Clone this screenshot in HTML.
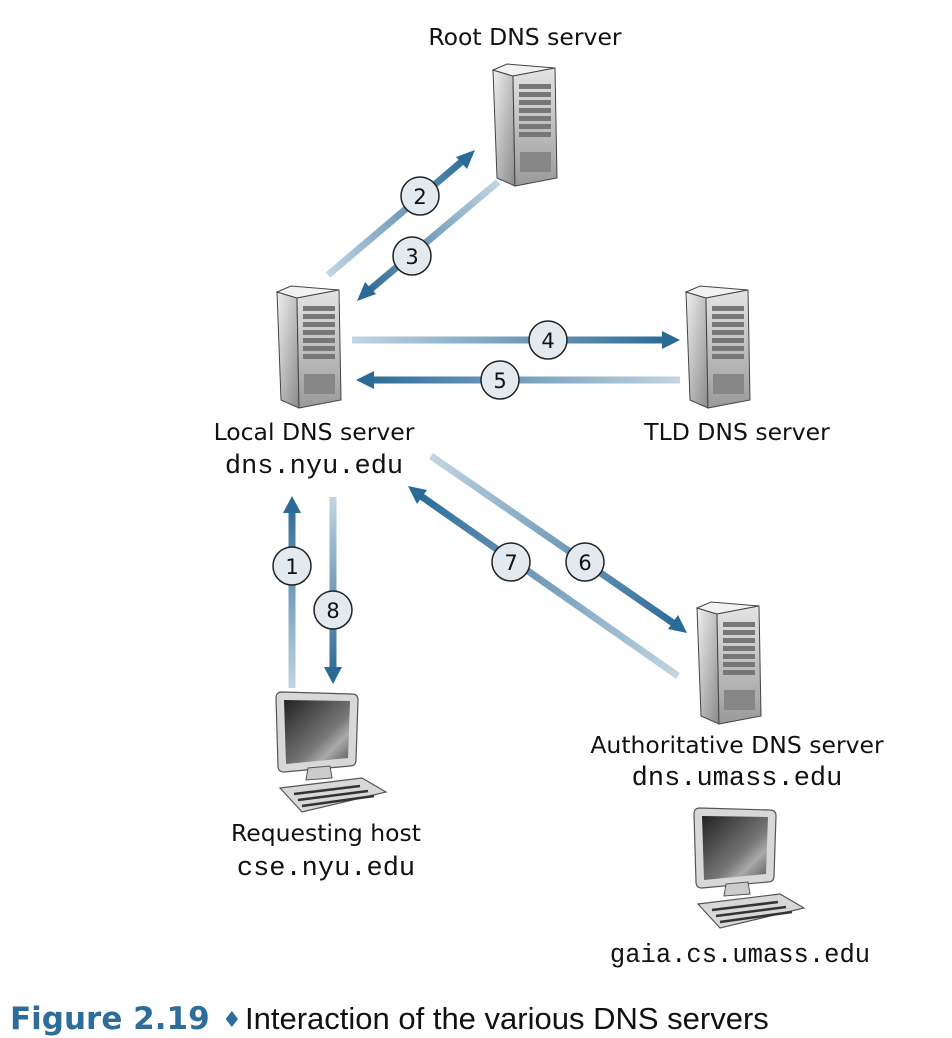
<!DOCTYPE html>
<html><head><meta charset="utf-8"><style>
html,body{margin:0;padding:0;background:#fff;}
svg{display:block}
.s{font-family:"DejaVu Sans","Liberation Sans",sans-serif;font-size:23.5px;fill:#111;text-anchor:middle}
.m{font-family:"Liberation Mono",monospace;font-size:27px;fill:#111;text-anchor:middle}
.n{font-family:"DejaVu Sans","Liberation Sans",sans-serif;font-size:21px;fill:#111;text-anchor:middle}
</style></head><body>
<svg width="952" height="1038" viewBox="0 0 952 1038" xmlns="http://www.w3.org/2000/svg">
<defs>
<linearGradient id="front" x1="0" y1="0" x2="0" y2="1"><stop offset="0" stop-color="#e4e4e4"/><stop offset="1" stop-color="#9a9a9a"/></linearGradient>
<linearGradient id="side" x1="0" y1="0" x2="1" y2="1"><stop offset="0" stop-color="#f0f0f0"/><stop offset="1" stop-color="#8a8a8a"/></linearGradient>
<linearGradient id="scr" x1="0" y1="0" x2="1" y2="1"><stop offset="0" stop-color="#222"/><stop offset="0.6" stop-color="#777"/><stop offset="0.75" stop-color="#aaa"/><stop offset="1" stop-color="#555"/></linearGradient>
<g id="srv">
<polygon points="0,6 20,12 22,122 4,114" fill="url(#side)" stroke="#444" stroke-width="1"/>
<polygon points="0,6 14,0 62,4 20,12" fill="#f2f2f2" stroke="#444" stroke-width="1"/>
<polygon points="20,12 62,4 64,114 22,122" fill="url(#front)" stroke="#444" stroke-width="1"/>
<g fill="#777">
<rect x="26" y="20" width="32" height="5"/><rect x="26" y="28" width="32" height="5"/><rect x="26" y="36" width="32" height="5"/><rect x="26" y="44" width="32" height="5"/><rect x="26" y="52" width="32" height="5"/><rect x="26" y="60" width="32" height="5"/><rect x="26" y="68" width="32" height="5"/>
</g>
<rect x="27" y="88" width="31" height="20" fill="#868686"/>
</g>
<g id="pc">
<path d="M4,6 Q4,0 10,0 L80,2 Q86,2 86,8 L84,68 Q84,74 78,74 L12,80 Q6,80 6,74 Z" fill="#d8d8d8" stroke="#555" stroke-width="1.2"/>
<path d="M12,8 L78,9 L76,66 L14,72 Z" fill="url(#scr)"/>
<path d="M36,76 L58,74 L60,86 L34,88 Z" fill="#ccc" stroke="#555"/>
<path d="M8,96 L90,86 L114,100 L30,120 Z" fill="#d8d8d8" stroke="#555" stroke-width="1.2"/>
<path d="M22,102 L88,94 M26,108 L96,99 M30,114 L102,104" stroke="#333" stroke-width="2.5"/>
</g>
</defs>

<use href="#srv" x="493" y="64"/>
<use href="#srv" x="277" y="286"/>
<use href="#srv" x="686" y="286"/>
<use href="#srv" x="697" y="602"/>
<use href="#pc" x="272" y="692"/>
<use href="#pc" x="690" y="808"/>

<defs>
<linearGradient id="g2" gradientUnits="userSpaceOnUse" x1="328" y1="275" x2="470" y2="154"><stop offset="0" stop-color="#c2d5e2"/><stop offset="1" stop-color="#2a6a96"/></linearGradient>
<linearGradient id="g3" gradientUnits="userSpaceOnUse" x1="498" y1="182" x2="362" y2="296"><stop offset="0" stop-color="#c2d5e2"/><stop offset="1" stop-color="#2a6a96"/></linearGradient>
<linearGradient id="g4" gradientUnits="userSpaceOnUse" x1="352" y1="0" x2="670" y2="0"><stop offset="0" stop-color="#c2d5e2"/><stop offset="1" stop-color="#2a6a96"/></linearGradient>
<linearGradient id="g5" gradientUnits="userSpaceOnUse" x1="680" y1="0" x2="362" y2="0"><stop offset="0" stop-color="#c2d5e2"/><stop offset="1" stop-color="#2a6a96"/></linearGradient>
<linearGradient id="g6" gradientUnits="userSpaceOnUse" x1="431" y1="456" x2="680" y2="628"><stop offset="0" stop-color="#c2d5e2"/><stop offset="1" stop-color="#2a6a96"/></linearGradient>
<linearGradient id="g7" gradientUnits="userSpaceOnUse" x1="678" y1="676" x2="414" y2="491"><stop offset="0" stop-color="#c2d5e2"/><stop offset="1" stop-color="#2a6a96"/></linearGradient>
<linearGradient id="g1" gradientUnits="userSpaceOnUse" x1="0" y1="688" x2="0" y2="502"><stop offset="0" stop-color="#c2d5e2"/><stop offset="1" stop-color="#2a6a96"/></linearGradient>
<linearGradient id="g8" gradientUnits="userSpaceOnUse" x1="0" y1="497" x2="0" y2="676"><stop offset="0" stop-color="#c2d5e2"/><stop offset="1" stop-color="#2a6a96"/></linearGradient>
</defs>
<g stroke-width="7" fill="none">
<line x1="328" y1="275" x2="466" y2="158" stroke="url(#g2)"/>
<line x1="498" y1="182" x2="366" y2="293" stroke="url(#g3)"/>
<line x1="352" y1="340" x2="666" y2="340" stroke="url(#g4)"/>
<line x1="680" y1="380" x2="368" y2="380" stroke="url(#g5)"/>
<line x1="431" y1="456" x2="676" y2="625" stroke="url(#g6)"/>
<line x1="678" y1="676" x2="418" y2="494" stroke="url(#g7)"/>
<line x1="292" y1="688" x2="292" y2="508" stroke="url(#g1)"/>
<line x1="333" y1="497" x2="333" y2="670" stroke="url(#g8)"/>
</g>
<g fill="#2a6a96">
<polygon points="475,150 456,157 467,169"/>
<polygon points="357,301 376,294 365,282"/>
<polygon points="680,340 662,331 662,349"/>
<polygon points="356,380 374,371 374,389"/>
<polygon points="687,633 678,615 668,629"/>
<polygon points="408,486 417,504 427,490"/>
<polygon points="292,496 283,513 301,513"/>
<polygon points="333,684 324,667 342,667"/>
</g>
<g fill="#e2e9ef" stroke="#222" stroke-width="1.5">
<circle cx="420" cy="196" r="19"/><circle cx="412" cy="256" r="19"/>
<circle cx="548" cy="340" r="19"/><circle cx="500" cy="380" r="19"/>
<circle cx="292" cy="566" r="19"/><circle cx="333" cy="610" r="19"/>
<circle cx="511" cy="562" r="19"/><circle cx="585" cy="562" r="19"/>
</g>
<g class="n">
<text x="420" y="204">2</text><text x="412" y="264">3</text>
<text x="548" y="348">4</text><text x="500" y="388">5</text>
<text x="292" y="574">1</text><text x="333" y="618">8</text>
<text x="511" y="570">7</text><text x="585" y="570">6</text>
</g>

<text class="s" x="525" y="45">Root DNS server</text>
<text class="s" x="314" y="440">Local DNS server</text>
<text class="m" x="314" y="473">dns.nyu.edu</text>
<text class="s" x="737" y="440">TLD DNS server</text>
<text class="s" x="737" y="753">Authoritative DNS server</text>
<text class="m" x="737" y="785">dns.umass.edu</text>
<text class="s" x="326" y="841">Requesting host</text>
<text class="m" x="326" y="875">cse.nyu.edu</text>
<text class="m" x="740" y="962" style="font-size:25.5px">gaia.cs.umass.edu</text>

<text x="10" y="1029" font-family="DejaVu Sans,Liberation Sans,sans-serif" font-size="31" font-weight="bold" fill="#2e6c9a">Figure 2.19</text>
<text x="222" y="1027" font-family="DejaVu Sans,sans-serif" font-size="22" fill="#2e6c9a">♦</text>
<text x="245" y="1029" font-family="Liberation Sans,sans-serif" font-size="31" fill="#111">Interaction of the various DNS servers</text>
</svg>
</body></html>
